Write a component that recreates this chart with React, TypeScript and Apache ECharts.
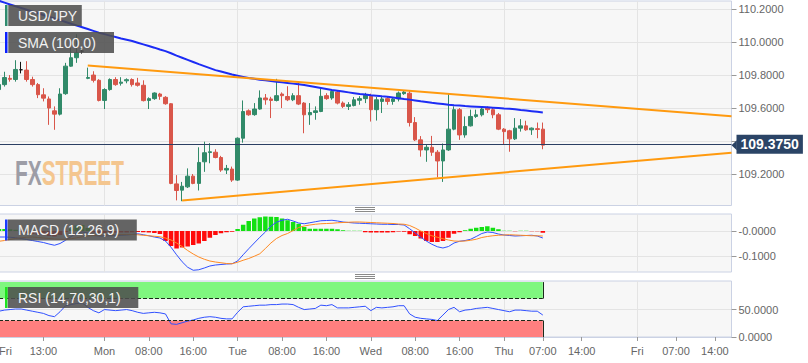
import React, { useEffect, useRef } from 'react';
import * as echarts from 'echarts';

// ---- time slots (hourly, weekend skipped) ----
const sessions: [string, number, number][] = [
  ['Fri', 5, 23], ['Mon', 0, 23], ['Tue', 0, 23], ['Wed', 0, 23], ['Thu', 0, 23], ['Fri', 0, 17],
];
const labelHours: number[][] = [[5, 13], [0, 8, 16], [0, 8, 16], [0, 8, 16], [0, 7, 14], [0, 7, 14]];

// ---- price candles: [open, close, low, high] ----
const ohlc: [number, number, number, number][] = [
  [109.712, 109.742, 109.650, 109.750], [109.742, 109.785, 109.730, 109.820], [109.780, 109.774, 109.760, 109.800],
  [109.773, 109.834, 109.760, 109.890], [109.832, 109.832, 109.810, 109.880], [109.830, 109.773, 109.760, 109.884],
  [109.773, 109.742, 109.730, 109.790], [109.742, 109.681, 109.660, 109.752], [109.680, 109.660, 109.640, 109.720],
  [109.655, 109.600, 109.498, 109.670], [109.583, 109.563, 109.468, 109.610], [109.563, 109.685, 109.555, 109.720],
  [109.687, 109.854, 109.680, 109.874], [109.854, 109.905, 109.850, 109.966], [109.905, 109.935, 109.874, 110.047],
  [109.945, 109.945, 109.930, 109.960], [109.780, 109.785, 109.775, 109.845], [109.800, 109.768, 109.755, 109.823],
  [109.768, 109.646, 109.640, 109.775], [109.646, 109.712, 109.594, 109.720], [109.712, 109.773, 109.705, 109.780],
  [109.773, 109.742, 109.735, 109.787], [109.750, 109.757, 109.736, 109.787], [109.765, 109.772, 109.750, 109.780],
  [109.773, 109.742, 109.730, 109.780], [109.752, 109.738, 109.730, 109.783], [109.738, 109.645, 109.640, 109.768],
  [109.646, 109.657, 109.594, 109.665], [109.657, 109.691, 109.650, 109.695], [109.685, 109.671, 109.650, 109.692],
  [109.665, 109.626, 109.620, 109.672], [109.626, 109.143, 109.138, 109.630], [109.140, 109.100, 109.040, 109.193],
  [109.102, 109.126, 109.035, 109.152], [109.122, 109.187, 109.115, 109.234], [109.187, 109.143, 109.138, 109.200],
  [109.143, 109.270, 109.100, 109.362], [109.274, 109.329, 109.213, 109.396], [109.330, 109.335, 109.265, 109.387],
  [109.332, 109.300, 109.295, 109.350], [109.300, 109.224, 109.213, 109.310], [109.224, 109.234, 109.200, 109.255],
  [109.230, 109.163, 109.152, 109.245], [109.163, 109.417, 109.158, 109.422], [109.417, 109.579, 109.390, 109.646],
  [109.583, 109.559, 109.553, 109.592], [109.560, 109.594, 109.553, 109.630], [109.594, 109.661, 109.590, 109.707],
  [109.661, 109.650, 109.620, 109.685], [109.655, 109.646, 109.539, 109.668], [109.646, 109.675, 109.640, 109.777],
  [109.685, 109.675, 109.600, 109.695], [109.670, 109.650, 109.642, 109.732], [109.650, 109.675, 109.642, 109.690],
  [109.675, 109.624, 109.618, 109.762], [109.630, 109.559, 109.447, 109.636], [109.559, 109.573, 109.498, 109.630],
  [109.573, 109.583, 109.529, 109.610], [109.579, 109.671, 109.575, 109.716], [109.675, 109.657, 109.650, 109.690],
  [109.661, 109.701, 109.650, 109.712], [109.697, 109.630, 109.622, 109.703], [109.630, 109.610, 109.600, 109.640],
  [109.610, 109.620, 109.588, 109.636], [109.615, 109.650, 109.610, 109.667], [109.647, 109.657, 109.620, 109.672],
  [109.657, 109.677, 109.630, 109.692], [109.671, 109.590, 109.518, 109.687], [109.590, 109.650, 109.524, 109.667],
  [109.640, 109.655, 109.570, 109.672], [109.657, 109.640, 109.620, 109.670], [109.640, 109.655, 109.620, 109.665],
  [109.655, 109.691, 109.640, 109.700], [109.687, 109.697, 109.680, 109.703], [109.690, 109.512, 109.488, 109.707],
  [109.512, 109.407, 109.400, 109.545], [109.407, 109.346, 109.305, 109.430], [109.346, 109.362, 109.274, 109.376],
  [109.362, 109.332, 109.310, 109.431], [109.332, 109.279, 109.180, 109.345], [109.279, 109.346, 109.152, 109.385],
  [109.346, 109.472, 109.340, 109.691], [109.472, 109.590, 109.465, 109.610], [109.590, 109.437, 109.407, 109.600],
  [109.437, 109.488, 109.420, 109.549], [109.492, 109.549, 109.488, 109.590], [109.549, 109.559, 109.540, 109.590],
  [109.559, 109.594, 109.549, 109.610], [109.600, 109.590, 109.570, 109.610], [109.590, 109.559, 109.538, 109.600],
  [109.559, 109.472, 109.466, 109.570], [109.472, 109.457, 109.382, 109.478], [109.462, 109.413, 109.335, 109.468],
  [109.413, 109.478, 109.406, 109.539], [109.478, 109.492, 109.457, 109.533], [109.492, 109.468, 109.462, 109.523],
  [109.468, 109.478, 109.437, 109.482], [109.475, 109.470, 109.417, 109.512], [109.472, 109.375, 109.350, 109.512],
];

const sma100 = [
  110.250, 110.239, 110.228, 110.217, 110.207, 110.196, 110.185, 110.175, 110.164, 110.154,
  110.143, 110.133, 110.122, 110.111, 110.100, 110.090, 110.079, 110.068, 110.057, 110.048,
  110.039, 110.031, 110.022, 110.014, 110.006, 109.996, 109.986, 109.976, 109.966, 109.955,
  109.945, 109.932, 109.918, 109.905, 109.892, 109.879, 109.866, 109.854, 109.842, 109.830,
  109.821, 109.812, 109.803, 109.796, 109.789, 109.782, 109.777, 109.772, 109.768, 109.764,
  109.760, 109.756, 109.752, 109.748, 109.744, 109.740, 109.734, 109.728, 109.722, 109.716,
  109.710, 109.705, 109.700, 109.695, 109.690, 109.685, 109.682, 109.678, 109.675, 109.671,
  109.668, 109.664, 109.660, 109.655, 109.651, 109.646, 109.641, 109.637, 109.632, 109.628,
  109.624, 109.620, 109.617, 109.615, 109.612, 109.610, 109.608, 109.606, 109.604, 109.602,
  109.600, 109.597, 109.595, 109.592, 109.588, 109.585, 109.581, 109.577, 109.573,
];

// trendlines: [slot index, price]
const upperTrend: [number, number][] = [[16, 109.858], [132, 109.550]];
const lowerTrend: [number, number][] = [[33, 109.040], [132, 109.329]];

const macdLine = [
  -0.024, -0.024, -0.025, -0.027, -0.030, -0.034, -0.038, -0.042, -0.046, -0.052,
  -0.057, -0.050, -0.037, -0.022, -0.008, -0.004, -0.008, -0.018, -0.020, -0.020,
  -0.019, -0.018, -0.017, -0.016, -0.014, -0.011, -0.015, -0.019, -0.024, -0.028,
  -0.040, -0.065, -0.095, -0.123, -0.145, -0.157, -0.155, -0.148, -0.140, -0.136,
  -0.134, -0.132, -0.131, -0.120, -0.095, -0.071, -0.048, -0.025, -0.004, 0.020,
  0.035, 0.043, 0.047, 0.040, 0.032, 0.029, 0.033, 0.037, 0.041, 0.042,
  0.043, 0.040, 0.036, 0.034, 0.032, 0.031, 0.030, 0.029, 0.028, 0.027,
  0.027, 0.026, 0.026, 0.024, 0.009, -0.008, -0.025, -0.040, -0.053, -0.063,
  -0.068, -0.062, -0.048, -0.041, -0.038, -0.033, -0.022, -0.010, -0.004, -0.006,
  -0.012, -0.016, -0.018, -0.020, -0.019, -0.018, -0.017, -0.020, -0.028,
];

const signalLine = [
  -0.041, -0.038, -0.034, -0.030, -0.027, -0.025, -0.024, -0.026, -0.028, -0.030,
  -0.032, -0.033, -0.033, -0.031, -0.027, -0.023, -0.020, -0.018, -0.017, -0.016,
  -0.015, -0.015, -0.014, -0.014, -0.014, -0.015, -0.017, -0.019, -0.021, -0.023,
  -0.028, -0.036, -0.048, -0.062, -0.078, -0.092, -0.104, -0.113, -0.120, -0.124,
  -0.127, -0.130, -0.131, -0.125, -0.117, -0.110, -0.101, -0.091, -0.070, -0.048,
  -0.030, -0.018, -0.010, 0.002, 0.014, 0.020, 0.024, 0.027, 0.029, 0.030,
  0.031, 0.033, 0.034, 0.035, 0.036, 0.036, 0.035, 0.034, 0.033, 0.032,
  0.031, 0.030, 0.028, 0.027, 0.022, 0.012, 0.000, -0.010, -0.019, -0.025,
  -0.031, -0.036, -0.040, -0.041, -0.040, -0.037, -0.033, -0.026, -0.022, -0.019,
  -0.017, -0.016, -0.015, -0.016, -0.017, -0.018, -0.019, -0.019, -0.020,
];

const macdHist = [
  0.008, 0.008, 0.007, 0.005, -0.004, -0.008, -0.012, -0.015, -0.017, -0.020,
  -0.022, -0.016, -0.004, 0.010, 0.022, 0.024, 0.012, -0.006, -0.008, -0.008,
  -0.007, -0.007, -0.006, -0.006, -0.005, -0.004, -0.005, -0.006, -0.008, -0.012,
  -0.040, -0.060, -0.070, -0.066, -0.062, -0.056, -0.050, -0.040, -0.027, -0.016,
  -0.009, -0.005, -0.003, 0.008, 0.025, 0.040, 0.050, 0.055, 0.058, 0.057,
  0.056, 0.050, 0.043, 0.036, 0.029, 0.016, 0.009, 0.009, 0.009, 0.009,
  0.009, 0.007, 0.003, 0.001, 0.001, 0.001, -0.005, -0.006, -0.006, -0.006,
  -0.006, -0.005, -0.002, -0.003, -0.013, -0.020, -0.030, -0.040, -0.044, -0.044,
  -0.040, -0.027, -0.011, -0.005, 0.003, 0.009, 0.013, 0.016, 0.019, 0.013,
  0.007, 0.001, 0.001, -0.001, 0.001, 0.001, -0.001, -0.001, -0.007,
];

const rsi14 = [
  47, 49, 50, 51, 51, 49, 47, 45, 43, 39,
  37, 46, 57, 59, 61, 62, 54, 48, 44, 50,
  49, 48, 49, 50, 48, 45, 43, 44, 45, 44,
  42, 24, 23, 26, 29, 31, 34, 36, 37, 36,
  34, 33, 33, 45, 55, 56, 57, 58, 58, 59,
  59, 60, 60, 59, 54, 50, 51, 52, 58, 57,
  59, 53, 53, 53, 54, 55, 56, 48, 54, 53,
  54, 55, 57, 57, 42, 36, 34, 33, 32, 30,
  40, 50, 54, 46, 49, 50, 52, 53, 54, 52,
  50, 48, 46, 49, 49, 48, 47, 47, 40,
];

const mainTicks = [109.2, 109.4, 109.6, 109.8, 110.0, 110.2];
const mainLabels = [109.2, 109.6, 109.8, 110.0, 110.2];
const macdTicks = [-0.1, 0];
const rsiTicks = [0, 50];
const rsiUpper = 70;
const rsiLower = 30;
const rsiTop = 100;

const lastClose = ohlc[ohlc.length - 1][1];
const lastIndex = ohlc.length - 1;

// ---- build categories ----
const pad = (h: number) => (h < 10 ? '0' + h : '' + h);
const categories: string[] = [];
const catLabel: Record<string, string> = {};
const daySplit: Record<string, boolean> = {};
sessions.forEach(([d, a, b], si) => {
  for (let h = a; h <= b; h++) {
    const key = `${d} ${pad(h)}:00 #${si}`;
    categories.push(key);
    if (labelHours[si].includes(h)) catLabel[key] = h === labelHours[si][0] ? d : `${pad(h)}:00`;
    if (h === 0 && si > 0) daySplit[key] = true;
  }
});

const FONT = '"Liberation Sans", Arial, sans-serif';
const BORDER = '#cbd2e4';
const GRIDLINE = '#e4e4e4';
const LABEL = '#666';

const gridBase = {
  left: -1, width: 732.5, show: true, backgroundColor: '#f7f7f7',
  borderColor: BORDER, borderWidth: 1, containLabel: false, outerBoundsMode: 'none',
};

function xAxisFor(gridIndex: number, withLabels: boolean) {
  return {
    type: 'category', gridIndex, data: categories, boundaryGap: false,
    axisLine: { show: withLabels, lineStyle: { color: BORDER } },
    axisTick: {
      show: withLabels, length: 4, lineStyle: { color: '#999' },
      interval: (_i: number, v: string) => v in catLabel,
    },
    axisLabel: {
      show: withLabels, color: LABEL, fontSize: 11, fontFamily: FONT, margin: 8,
      interval: (_i: number, v: string) => v in catLabel,
      formatter: (v: string) => catLabel[v] ?? '',
      alignMinLabel: 'left', showMinLabel: true, showMaxLabel: true, hideOverlap: false,
    },
    splitLine: {
      show: true, lineStyle: { color: GRIDLINE },
      interval: (_i: number, v: string) => !!daySplit[v],
    },
  };
}

function yAxisFor(gridIndex: number, min: number, max: number, ticks: number[], labels: number[], fmt: (v: number) => string) {
  return {
    type: 'value', gridIndex, position: 'right', min, max, scale: true,
    axisLine: { show: false },
    axisTick: { show: true, length: 5, lineStyle: { color: '#999' }, customValues: ticks },
    axisLabel: { color: LABEL, fontSize: 11, fontFamily: FONT, margin: 7, customValues: labels, formatter: fmt },
    splitLine: { show: true, lineStyle: { color: GRIDLINE } },
  };
}

function buildOption(): any {
  return {
    animation: false,
    textStyle: { fontFamily: FONT },
    grid: [
      { ...gridBase, top: 1, height: 204.5 },
      { ...gridBase, top: 214, height: 58 },
      { ...gridBase, top: 281, height: 56 },
    ],
    xAxis: [xAxisFor(0, false), xAxisFor(1, false), xAxisFor(2, true)],
    yAxis: [
      yAxisFor(0, 109.009, 110.249, mainTicks, mainLabels, (v) => v.toFixed(4)),
      yAxisFor(1, -0.164, 0.068, macdTicks, macdTicks, (v) => (v === 0 ? '-0.0000' : v.toFixed(4))),
      yAxisFor(2, 0, 102, rsiTicks, rsiTicks, (v) => v.toFixed(4)),
    ],
    series: [
      {
        type: 'candlestick', xAxisIndex: 0, yAxisIndex: 0, data: ohlc, barWidth: 4, z: 2,
        itemStyle: {
          color: '#318a69', color0: '#d9564a', borderColor: '#318a69', borderColor0: '#d9564a',
          borderColorDoji: '#111', borderWidth: 1,
        },
        markLine: {
          silent: true, symbol: ['none', 'none'], animation: false,
          lineStyle: { color: '#2b3f63', width: 1, type: 'solid' },
          label: {
            show: true, position: 'end', distance: 5, formatter: lastClose.toFixed(4),
            backgroundColor: '#2b4466', color: '#fff', fontWeight: 'bold', fontSize: 14,
            fontFamily: FONT, padding: [2, 4, 2, 4], lineHeight: 15,
          },
          data: [{ yAxis: lastClose }],
        },
      },
      {
        type: 'line', xAxisIndex: 0, yAxisIndex: 0, data: sma100, showSymbol: false, symbol: 'none', z: 4,
        lineStyle: { color: '#1c2cf5', width: 2 },
      },
      {
        type: 'line', xAxisIndex: 0, yAxisIndex: 0, data: upperTrend, showSymbol: false, symbol: 'none', z: 5,
        lineStyle: { color: '#ff9a0f', width: 2 },
      },
      {
        type: 'line', xAxisIndex: 0, yAxisIndex: 0, data: lowerTrend, showSymbol: false, symbol: 'none', z: 5,
        lineStyle: { color: '#ff9a0f', width: 2 },
      },
      {
        type: 'bar', xAxisIndex: 1, yAxisIndex: 1, data: macdHist, barWidth: 4.5, z: 2,
        itemStyle: { color: (p: any) => (p.value >= 0 ? '#12e012' : '#ff0a0a') },
      },
      {
        type: 'line', xAxisIndex: 1, yAxisIndex: 1, data: macdLine, showSymbol: false, symbol: 'none', z: 4,
        lineStyle: { color: '#3050ff', width: 1 },
      },
      {
        type: 'line', xAxisIndex: 1, yAxisIndex: 1, data: signalLine, showSymbol: false, symbol: 'none', z: 4,
        lineStyle: { color: '#ff8a22', width: 1 },
      },
      {
        type: 'line', xAxisIndex: 2, yAxisIndex: 2, data: [], z: 1, silent: true,
        markArea: {
          silent: true,
          data: [
            [{ xAxis: 0, yAxis: rsiUpper, itemStyle: { color: '#7ff77f' } }, { xAxis: lastIndex, yAxis: rsiTop }],
            [{ xAxis: 0, yAxis: 0, itemStyle: { color: '#ff7f7f' } }, { xAxis: lastIndex, yAxis: rsiLower }],
          ],
        },
        markLine: {
          silent: true, symbol: ['none', 'none'], label: { show: false },
          lineStyle: { color: '#1a2a1a', width: 1, type: 'dashed' },
          data: [
            [{ coord: [0, rsiUpper] }, { coord: [lastIndex, rsiUpper] }],
            [{ coord: [0, rsiLower] }, { coord: [lastIndex, rsiLower] }],
            [{ coord: [lastIndex, rsiUpper], lineStyle: { type: 'solid' } }, { coord: [lastIndex, rsiTop] }],
            [{ coord: [lastIndex, 0], lineStyle: { type: 'solid' } }, { coord: [lastIndex, rsiLower] }],
          ],
        },
      },
      {
        type: 'line', xAxisIndex: 2, yAxisIndex: 2, data: rsi14, showSymbol: false, symbol: 'none', z: 4,
        lineStyle: { color: '#3050ff', width: 1 },
      },
    ],
  };
}

function legendBox(id: string, x: number, y: number, w: number, barColor: string, text: string) {
  return {
    type: 'group', id, z: 100, silent: true,
    children: [
      { type: 'rect', shape: { x: 5, y, width: 2.5, height: 21 }, style: { fill: barColor }, z: 100 },
      { type: 'rect', shape: { x, y, width: w, height: 21 }, style: { fill: 'rgba(78,78,78,0.87)' }, z: 100 },
      {
        type: 'text', x: 18, y: y + 10.5, z: 101,
        style: { text, fill: '#f2f2f2', font: `14px ${FONT}`, verticalAlign: 'middle', align: 'left' },
      },
    ],
  };
}

function handle(id: string, cy: number) {
  return {
    type: 'group', id, silent: true,
    children: [-2, 0, 2].map((d) => ({
      type: 'line', shape: { x1: 355, y1: cy + d, x2: 375, y2: cy + d }, style: { stroke: '#8a8a8a', lineWidth: 1 },
    })),
  };
}

function buildGraphics(priceY: number) {
  return [
    {
      type: 'text', id: 'wm1', x: 15, y: 172, scaleX: 0.58, z: 1, silent: true,
      style: { text: 'FX', font: `bold 36px ${FONT}`, fill: '#9d9da6', verticalAlign: 'middle', align: 'left' },
    },
    {
      type: 'text', id: 'wm2', x: 41.7, y: 172, scaleX: 0.58, z: 1, silent: true,
      style: { text: 'STREET', font: `bold 36px ${FONT}`, fill: '#f4c68f', verticalAlign: 'middle', align: 'left' },
    },
    legendBox('lg1', 8.3, 5, 73.5, '#2e8b6e', 'USD/JPY'),
    legendBox('lg2', 8.3, 32, 105.7, '#0a1fff', 'SMA (100,0)'),
    legendBox('lg3', 7.8, 219.5, 129, '#1a3cff', 'MACD (12,26,9)'),
    legendBox('lg4', 7.8, 287, 130.5, '#1ee51e', 'RSI (14,70,30,1)'),
    handle('h1', 209.5),
    handle('h2', 276.5),
    {
      type: 'polygon', id: 'arrow', z: 50, silent: true,
      shape: { points: [[731.5, priceY], [736.8, priceY - 5], [736.8, priceY + 5]] },
      style: { fill: '#2b4466' },
    },
  ];
}

export default function App() {
  const ref = useRef<HTMLDivElement>(null);
  useEffect(() => {
    if (!ref.current) return;
    const chart = echarts.init(ref.current, undefined, { renderer: 'svg', width: 808, height: 363 });
    chart.setOption(buildOption());
    const py = chart.convertToPixel({ gridIndex: 0 }, [0, lastClose]) as number[];
    chart.setOption({ graphic: buildGraphics(py[1]) });
    return () => chart.dispose();
  }, []);
  return (
    <div
      ref={ref}
      style={{ position: 'absolute', left: 0, top: 0, width: 808, height: 363, background: '#fff' }}
    />
  );
}
